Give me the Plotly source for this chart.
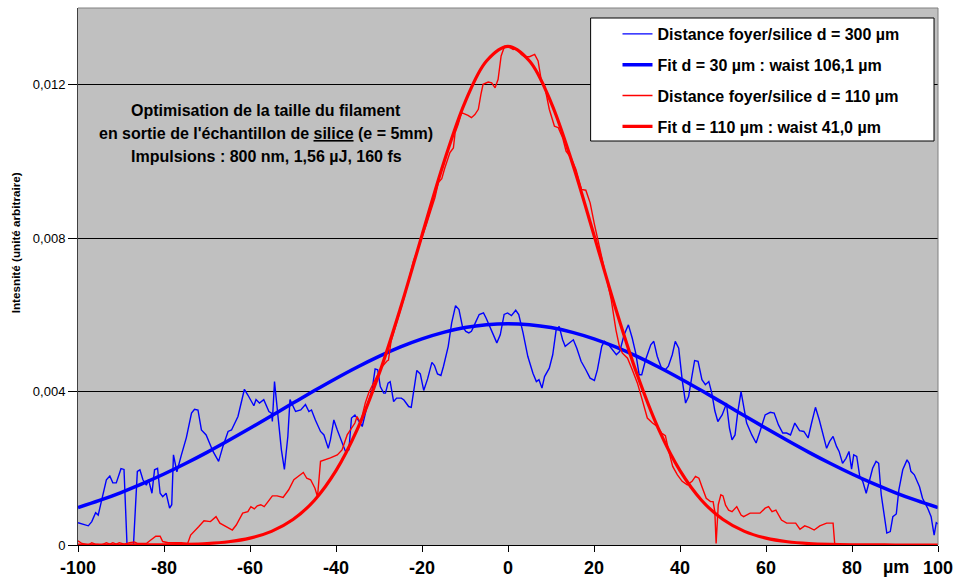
import numpy as np
import plotly.graph_objects as go

# ---------------- data (intensity read in units of 1e-3, arbitrary units) -------------
x_d300 = [-100, -99.1, -97.6, -96.8, -95.9, -95.3, -94.5, -93.4, -92.6, -91.9, -91.1, -90.0, -89.3,
          -88.6, -87.1, -86.2, -85.6, -84.9, -84.1, -83.6, -82.8, -82.2, -81.5, -80.9, -80.3, -79.5,
          -78.7, -78.2, -77.8, -77.0, -76.0, -74.8, -73.6, -72.9, -72.1, -71.3, -70.2, -68.6, -67.3,
          -66.3, -65.1, -64.3, -62.8, -62.0, -61.3, -60.5, -59.1, -58.6, -57.8, -56.8, -56.3, -55.6,
          -55.0, -54.8, -54.3, -53.7, -52.7, -52.0, -51.2, -50.7, -50.2, -49.4, -48.2, -47.1, -46.3,
          -45.7, -44.8, -43.6, -42.8, -41.8, -41.3, -40.5, -39.7, -38.6, -37.8, -37.0, -36.4, -35.6,
          -34.8, -33.9, -32.8, -31.6, -30.9, -30.3, -29.7, -28.9, -28.5, -27.9, -27.4, -26.6, -25.9,
          -24.8, -24.2, -23.1, -22.5, -21.2, -20.4, -19.6, -18.7, -17.7, -17.1, -16.4, -15.6, -15.0,
          -13.9, -13.1, -12.2, -11.4, -10.6, -9.8, -9.1, -8.5, -7.6, -6.7, -5.7, -5.1, -3.6, -2.6,
          -1.8, -0.9, -0.1, 0.8, 1.8, 2.5, 3.5, 4.6, 5.8, 6.6, 7.2, 7.9, 8.5, 9.6, 10.4, 11.2, 11.9,
          12.7, 13.3, 14.1, 15.2, 16.0, 17.0, 18.1, 19.1, 20.1, 20.8, 21.8, 22.4, 23.4, 24.5, 25.2,
          26.0, 27.0, 28.0, 28.9, 29.7, 30.5, 31.1, 32.0, 33.2, 33.9, 34.7, 35.7, 36.6, 37.3, 38.2,
          38.9, 39.7, 40.5, 41.3, 42.0, 42.7, 43.4, 44.2, 45.1, 45.9, 46.7, 47.4, 48.1, 48.8, 49.8,
          50.5, 50.8, 51.5, 52.1, 52.8, 53.4, 54.2, 54.8, 55.5, 56.7, 57.7, 58.6, 59.8, 61.0, 61.9,
          62.9, 63.9, 64.8, 65.7, 66.7, 67.8, 68.8, 69.8, 70.6, 71.5, 72.4, 73.1, 74.1, 74.8, 75.6,
          76.4, 77.0, 77.8, 78.6, 79.3, 79.9, 80.4, 81.1, 81.8, 82.5, 83.3, 84.1, 84.8, 85.6, 86.2,
          86.8, 87.6, 88.1, 88.9, 89.5, 90.3, 90.9, 91.8, 92.8, 93.3, 93.7, 94.5, 95.7, 96.4, 97.6,
          98.4, 99.1, 99.6, 100]
y_d300_milli = [0.58, 0.55, 0.50, 0.61, 0.84, 0.78, 1.17, 1.70, 1.80, 1.62, 1.62, 1.99, 1.97,
                0.0, 0.0, 1.92, 1.96, 1.70, 1.56, 1.70, 1.35, 1.96, 2.00, 1.35, 1.26, 1.35,
                0.96, 1.05, 2.35, 1.91, 2.33, 2.80, 3.44, 3.54, 3.52, 3.00, 2.87, 2.44, 2.18,
                2.57, 2.96, 3.00, 3.35, 3.70, 4.06, 3.91, 3.63, 3.79, 3.70, 3.79, 3.65, 3.48,
                3.44, 3.22, 4.26, 3.52, 2.48, 1.97, 2.83, 3.79, 3.66, 3.48, 3.52, 3.66, 3.48,
                3.52, 3.26, 2.96, 2.87, 2.52, 2.74, 3.26, 3.00, 2.66, 2.44, 2.48, 3.31, 3.39,
                3.26, 3.09, 3.61, 4.05, 4.59, 4.57, 4.13, 3.96, 3.96, 4.22, 4.26, 3.74, 3.83,
                3.83, 3.78, 3.61, 3.59, 4.55, 4.46, 4.03, 4.33, 4.76, 4.68, 4.46, 4.42, 4.66,
                5.18, 5.79, 6.24, 6.14, 5.70, 5.57, 5.53, 5.57, 5.79, 6.01, 6.05, 5.92, 5.53, 5.27,
                5.48, 6.01, 6.05, 5.98, 6.12, 6.01, 5.53, 4.92, 4.48, 4.26, 4.31, 4.09, 4.39, 4.61, 4.96, 5.61, 5.70,
                5.35, 5.18, 5.26, 5.35, 5.13, 4.79, 4.57, 4.35, 4.29, 4.57, 5.18, 5.31, 5.22, 5.05, 4.96,
                5.05, 5.48, 5.74, 5.39, 5.00, 4.44, 4.44, 4.83, 5.22, 5.31, 4.92, 4.61, 4.57, 4.66, 4.96,
                5.31, 5.13, 4.31, 3.70, 3.87, 4.35, 4.81, 4.79, 4.31, 4.18, 4.26, 3.96, 3.50, 3.22, 3.39,
                3.60, 3.70, 3.05, 2.74, 2.87, 3.44, 4.00, 3.61, 3.18, 2.87, 2.66, 2.96, 3.39, 3.46, 3.44,
                3.13, 2.92, 2.92, 2.87, 3.18, 2.98, 2.96, 2.79, 3.18, 3.59, 3.26, 2.92, 2.52, 2.70, 2.83,
                2.57, 2.44, 2.13, 2.26, 2.44, 1.98, 2.35, 2.31, 1.79, 1.66, 1.35, 1.66, 2.00, 2.18, 2.13,
                1.31, 0.61, 0.31, 0.35, 0.74, 0.81, 1.44, 1.96, 2.22, 2.13, 1.92, 1.83, 1.52, 1.22, 0.96,
                0.74, 0.26, 0.58, 0.55]

x_d110 = [-100, -99.1, -97.6, -96.8, -96.0, -94.5, -93.4, -92.6, -91.9, -91.1, -90.4, -89.2, -88.0,
          -86.9, -86.2, -84.1, -83.3, -81.9, -80.9, -80.3, -79.0, -76.0, -74.5, -73.8, -71.9, -70.7,
          -69.2, -67.9, -67.0, -65.1, -64.1, -63.2, -61.7, -60.5, -59.8, -59.0, -58.3, -57.5, -56.7,
          -55.8, -54.8, -53.7, -52.3, -51.0, -49.8, -48.9, -47.6, -46.8, -45.9, -44.9, -44.3, -43.6,
          -42.4, -41.3, -39.7, -38.6, -37.4, -36.6, -35.6, -35.1, -34.3, -33.2, -32.4, -31.6, -30.5,
          -29.5, -28.2, -27.8, -27.2, -26.0, -25.0, -24.0, -23.0, -22.0, -21.0, -20.0, -19.0, -18.0,
          -17.0, -16.2, -15.4, -14.7, -13.5, -12.7, -12.3, -11.6, -10.8, -9.3, -8.5, -7.7, -6.9,
          -6.3, -5.8, -4.6, -3.8, -3.0, -2.3, -1.6, -0.8, 0.4, 1.2, 2.0, 3.1, 3.9, 5.0, 6.2, 7.0,
          7.7, 8.5, 9.6, 10.8, 11.7, 12.7, 13.5, 14.7, 15.8, 17.1, 18.1, 19.1, 20.1, 21.6, 22.8,
          24.0, 25.1, 25.9, 26.6, 27.8, 28.9, 30.1, 31.2, 32.4, 33.6, 34.7, 35.7, 36.6, 37.4, 38.3,
          39.4, 40.5, 41.7, 42.8, 43.6, 44.4, 45.1, 46.1, 47.1, 47.7, 48.1, 48.4, 48.9, 49.5, 50.0,
          50.6, 51.3, 52.1, 53.2, 54.2, 54.8, 56.3, 58.6, 59.8, 60.6, 61.4, 62.3, 63.6, 64.8, 66.9,
          67.9, 69.0, 70.0, 71.2, 72.5, 74.1, 75.6, 76.0, 100]
y_d110_milli = [0.11, 0.04, 0.0, 0.06, 0.02, 0.0, 0.06, 0.02, 0.06, 0.02, 0.06, 0.02, 0.06,
                0.08, 0.04, 0.04, 0.11, 0.23, 0.23, 0.09, 0.06, 0.06, 0.04, 0.26, 0.48, 0.63,
                0.61, 0.74, 0.57, 0.44, 0.39, 0.52, 0.83, 0.87, 1.00, 0.94, 1.02, 1.05, 1.00,
                1.13, 1.28, 1.28, 1.24, 1.44, 1.70, 1.78, 1.89, 1.74, 1.70, 1.48, 1.26, 2.18,
                2.22, 2.27, 2.35, 2.48, 2.87, 3.00, 3.18, 3.35, 3.18, 3.70, 3.96, 4.15, 4.40,
                4.62, 4.79, 4.82, 5.31, 5.75, 6.10, 6.50, 6.95, 7.40, 7.70, 8.00, 8.35, 8.70,
                9.05, 9.45, 9.55, 9.83, 10.23, 10.35, 10.75, 10.96, 11.27, 11.20, 11.14, 11.22, 11.36,
                11.75, 12.01, 12.07, 12.05, 11.92, 12.14, 12.75, 13.00, 12.97, 12.92, 12.94, 12.79, 12.73, 12.73, 12.79, 12.62,
                12.14, 11.97, 11.36, 10.92, 10.88, 10.62, 10.27, 10.09, 9.79, 9.27, 9.25, 8.92, 8.36, 7.62, 6.95,
                6.40, 5.61, 5.18, 5.00, 4.87, 4.57, 4.22, 3.79, 3.31, 3.18, 3.09, 2.92, 2.85, 2.44, 2.05,
                1.83, 1.66, 1.57, 1.66, 1.79, 1.74, 1.52, 1.22, 1.13, 1.13, 0.87, 0.04, 1.05, 1.31, 1.28,
                1.04, 0.91, 0.87, 1.00, 0.78, 0.74, 0.83, 0.83, 0.96, 1.00, 0.87, 0.91, 0.65, 0.57, 0.57,
                0.41, 0.50, 0.46, 0.39, 0.50, 0.57, 0.57, 0.0, 0.0]

x_fit = [-100, -95, -90, -85, -80, -75, -70, -65, -60, -55, -50, -45, -40, -35, -30, -25, -20,
         -15, -10, -5, 0, 5, 10, 15, 20, 25, 30, 35, 40, 45, 50, 55, 60, 65, 70, 75, 80, 85, 90,
         95, 100]
y_fit30_milli = [0.976, 1.161, 1.368, 1.598, 1.850, 2.124, 2.415, 2.723, 3.043, 3.371, 3.700,
                 4.026, 4.342, 4.641, 4.917, 5.164, 5.374, 5.544, 5.668, 5.744, 5.770, 5.744,
                 5.668, 5.544, 5.374, 5.164, 4.917, 4.641, 4.342, 4.026, 3.700, 3.371, 3.043,
                 2.723, 2.415, 2.124, 1.850, 1.598, 1.368, 1.161, 0.976]
y_fit110_milli = [0.0, 0.0, 0.0, 0.002, 0.006, 0.016, 0.038, 0.085, 0.179, 0.355, 0.664, 1.168,
                  1.937, 3.027, 4.456, 6.180, 8.077, 9.946, 11.542, 12.619, 13.000, 12.619,
                  11.542, 9.946, 8.077, 6.180, 4.456, 3.027, 1.937, 1.168, 0.664, 0.355, 0.179,
                  0.085, 0.038, 0.016, 0.006, 0.002, 0.0, 0.0, 0.0]

series_names = ["Distance foyer/silice d = 300 µm", "Fit d = 30 µm : waist 106,1 µm",
                "Distance foyer/silice d = 110 µm", "Fit d = 110 µm : waist 41,0 µm"]

x_tickvals = [-100, -80, -60, -40, -20, 0, 20, 40, 60, 80, 100]
x_ticktext = ["-100", "-80", "-60", "-40", "-20", "0", "20", "40", "60", "80", "100"]
y_tickvals = [0, 0.004, 0.008, 0.012]
y_ticktext = ["0", "0,004", "0,008", "0,012"]

title_lines = ["Optimisation de la taille du filament",
               "en sortie de l'échantillon de <u>silice</u> (e = 5mm)",
               "Impulsions : 800 nm, 1,56 µJ, 160 fs"]
y_title = "Intesnité (unité arbitraire)"
x_unit = "µm"

# ---------------- figure -------------
W, H = 961, 588
ML, MR, MT, MB = 78, 19, 8, 43
PW, PH = W - ML - MR, H - MT - MB
FONT = "Arial, Liberation Sans, sans-serif"


def px(xp):
    return (xp - ML) / PW


def py(yp):
    return (H - MB - yp) / PH


milli = 1e-3
fig = go.Figure()
fig.add_trace(go.Scatter(x=x_d300, y=np.array(y_d300_milli) * milli, mode="lines",
                         line=dict(color="#0000FF", width=1.4), name="<b>%s</b>" % series_names[0],
                         legendgroup="g1"))
fig.add_trace(go.Scatter(x=x_fit, y=np.array(y_fit30_milli) * milli, mode="lines",
                         line=dict(color="#0000FF", width=3.5, shape="spline"),
                         name="<b>%s</b>" % series_names[1], legendgroup="g2"))
fig.add_trace(go.Scatter(x=x_d110, y=np.array(y_d110_milli) * milli, mode="lines",
                         line=dict(color="#FF0000", width=1.4), name="<b>%s</b>" % series_names[2],
                         legendgroup="g3"))
fig.add_trace(go.Scatter(x=x_fit, y=np.array(y_fit110_milli) * milli, mode="lines",
                         line=dict(color="#FF0000", width=3.2, shape="spline"),
                         name="<b>%s</b>" % series_names[3], legendgroup="g4"))

annotations = []
for i, (t, yy) in enumerate(zip(title_lines, [110, 133, 156])):
    annotations.append(dict(x=px(267), y=py(yy), xref="paper", yref="paper", text="<b>%s</b>" % t,
                            showarrow=False, xanchor="center", yanchor="middle",
                            font=dict(family=FONT, size=16, color="black")))
annotations.append(dict(x=px(15), y=py(243), xref="paper", yref="paper", text="<b>%s</b>" % y_title,
                        showarrow=False, textangle=-90, xanchor="center", yanchor="middle",
                        font=dict(family=FONT, size=11.7, color="black")))
annotations.append(dict(x=px(900), y=py(567), xref="paper", yref="paper", text="<b>%s</b>" % x_unit,
                        showarrow=False, xanchor="center", yanchor="middle",
                        font=dict(family=FONT, size=18, color="black")))

shapes = [
    # plot-area border (top and right)
    dict(type="path", xref="paper", yref="paper", path="M 0 1 L 1 1 L 1 0",
         line=dict(color="#808080", width=1), layer="above"),
    # legend box
    dict(type="rect", xref="paper", yref="paper", x0=px(593), x1=px(938), y0=py(141), y1=py(18),
         line=dict(color="black", width=1), fillcolor="white", layer="above"),
]

fig.update_layout(
    width=W, height=H,
    margin=dict(l=ML, r=MR, t=MT, b=MB, pad=0),
    paper_bgcolor="white", plot_bgcolor="#C0C0C0",
    font=dict(family=FONT, color="black"),
    showlegend=True,
    legend=dict(x=px(620), y=py(17), xanchor="left", yanchor="top", bgcolor="rgba(0,0,0,0)",
                borderwidth=0, font=dict(family=FONT, size=16, color="black"),
                tracegroupgap=7, traceorder="grouped"),
    annotations=annotations,
    shapes=shapes,
    xaxis=dict(range=[-100, 100], tickvals=x_tickvals, ticktext=x_ticktext, showgrid=False,
               zeroline=False, showline=True, linecolor="black", linewidth=1, ticks="outside",
               ticklen=6, tickcolor="black",
               tickfont=dict(family=FONT, size=18, color="black", weight="bold")),
    yaxis=dict(range=[0, 0.014], tickvals=y_tickvals, ticktext=y_ticktext, showgrid=True,
               gridcolor="black", gridwidth=1, zeroline=False, showline=True, linecolor="#404040",
               linewidth=1, ticks="outside", ticklen=9, tickcolor="black",
               tickfont=dict(family=FONT, size=13, color="black")),
)

fig.write_html("out.html")
